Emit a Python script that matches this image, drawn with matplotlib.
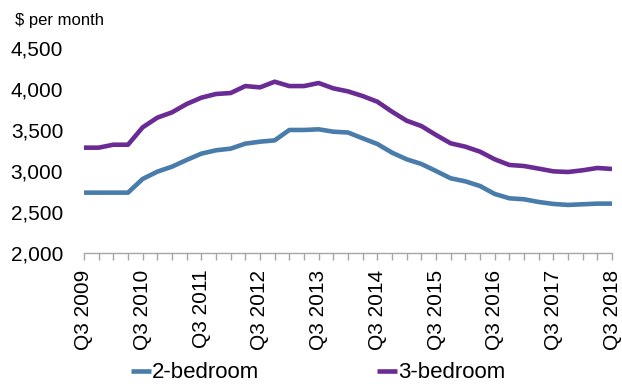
import matplotlib
matplotlib.use("Agg")
import matplotlib.pyplot as plt

quarters = [f"Q{q} {y}" for y in range(2009, 2019) for q in (1, 2, 3, 4)][2:2 + 37]
tick_labels = ["Q3 2009", "Q3 2010", "Q3 2011", "Q3 2012", "Q3 2013",
               "Q3 2014", "Q3 2015", "Q3 2016", "Q3 2017", "Q3 2018"]

two_bed = [2736, 2736, 2736, 2736, 2903, 2992, 3053, 3135, 3212, 3253,
           3273, 3334, 3358, 3374, 3501, 3501, 3509, 3480, 3470, 3399,
           3330, 3224, 3143, 3086, 3000, 2911, 2874, 2817, 2720, 2667,
           2655, 2622, 2598, 2586, 2594, 2602, 2602]
three_bed = [3285, 3285, 3321, 3321, 3533, 3651, 3716, 3818, 3895, 3940,
             3952, 4037, 4021, 4090, 4037, 4037, 4074, 4009, 3972, 3915,
             3846, 3724, 3614, 3549, 3440, 3338, 3297, 3236, 3143, 3074,
             3061, 3029, 2996, 2988, 3009, 3037, 3025]

plt.rcParams['font.family'] = ['Liberation Sans', 'DejaVu Sans']

fig = plt.figure(figsize=(6.22, 3.85), dpi=100)
ax = fig.add_axes([0.135, 0.343, 0.849, 0.532])

x = list(range(len(quarters)))
ax.plot(x, two_bed, color='#4A7CAB', lw=3.3, label='2-bedroom', solid_capstyle='butt')
ax.plot(x, three_bed, color='#6A2C94', lw=3.3, label='3-bedroom', solid_capstyle='butt')

ax.set_xlim(0, len(quarters) - 1)
ax.set_ylim(2000, 4500)
ax.set_yticks([2000, 2500, 3000, 3500, 4000, 4500])
ax.set_yticklabels([f"{v:,}" for v in [2000, 2500, 3000, 3500, 4000, 4500]])
ax.tick_params(axis='y', length=0, pad=15, labelsize=15)

ax.set_xticks(x)
ax.set_xticklabels([q if q in tick_labels else "" for q in quarters], rotation=90)
ax.tick_params(axis='x', length=5, width=1, color='#A6A6A6', pad=7, labelsize=15)

for s in ['top', 'right', 'left']:
    ax.spines[s].set_visible(False)
ax.spines['bottom'].set_color('#A6A6A6')
ax.spines['bottom'].set_linewidth(1)

fig.text(15 / 622, 1 - 21 / 385, "$ per month", fontsize=12, ha='left', va='center')

fig.legend(loc='center', bbox_to_anchor=(318 / 622, 1 - 373 / 385), ncol=2,
           frameon=False, fontsize=16, handlelength=0.9, handletextpad=0.05,
           columnspacing=5.3, borderpad=0)

fig.savefig("out.png", dpi=100)
